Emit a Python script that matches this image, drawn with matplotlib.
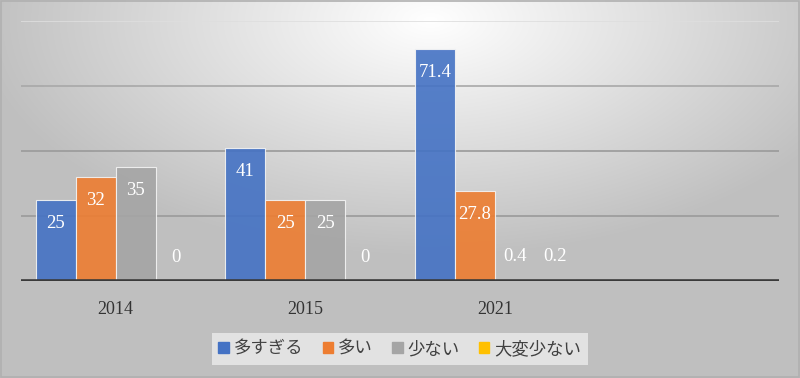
import numpy as np
import matplotlib
matplotlib.use("Agg")
import matplotlib.pyplot as plt
from matplotlib.patches import Rectangle

years = ["2014", "2015", "2021", ""]
series = ["多すぎる", "多い", "少ない", "大変少ない"]
too_many = [25, 41, 71.4]
many = [32, 25, 27.8]
few = [35, 25, 0.4]
very_few = [0, 0, 0.2]
values = [too_many, many, few, very_few]
colors = ["#4472C4", "#ED7D31", "#A5A5A5", "#FFC000"]

W, H = 800, 378
fig = plt.figure(figsize=(W / 100, H / 100), dpi=100)

# radial grey gradient background, brightest near top middle
bg = fig.add_axes([0, 0, 1, 1], zorder=-10)
yy, xx = np.mgrid[0:H, 0:W]
d = np.sqrt(((xx - 430) / W) ** 2 + ((yy - 20) / (H * 1.1)) ** 2)
shade = np.clip(1.0 - 0.44 * d, 0.75, 1.0)
bg.imshow(np.dstack([shade] * 3), aspect="auto", extent=[0, 1, 0, 1])
bg.add_patch(Rectangle((0.001, 0.002), 0.998, 0.995, fill=False,
                       ec="#b0b0b0", lw=1.2, transform=bg.transAxes))
bg.set_axis_off()

ax = fig.add_axes([21 / W, 97 / H, 758 / W, 260 / H])
ax.patch.set_alpha(0)
for s in ax.spines.values():
    s.set_visible(False)

x = np.arange(len(years))
bw = 0.211
for i, (vals, c) in enumerate(zip(values, colors)):
    xs = x[:len(vals)] + (i - 1.5) * bw
    ax.bar(xs, vals, width=bw, color=c, alpha=0.9, edgecolor="#f4f4f4",
           linewidth=0.8, zorder=2)
    for xi, v in zip(xs, vals):
        ly = v - 7.2 if v > 14 else v + 7.2
        ax.text(xi, ly, f"{v:g}", ha="center", va="center", color="white",
                fontsize=13.5, family="Liberation Serif", zorder=3)

ax.set_xlim(-0.5, 3.5)
ax.set_ylim(0, 80)
ax.set_yticks([20, 40, 60, 80])
ax.set_yticklabels([])
for g, col in zip([20, 40, 60, 80], ["#9a9a9a", "#9a9a9a", "#a8a8a8", "#dedede"]):
    ax.axhline(g, color=col, lw=1.2, zorder=1)
ax.axhline(0, color="#3a3a3a", lw=2.6, zorder=4)
ax.tick_params(left=False, bottom=False, pad=11)
ax.set_xticks(x)
ax.set_xticklabels(years, family="Liberation Serif", fontsize=13, color="#333333")

handles = [Rectangle((0, 0), 1, 1, color=c) for c in colors]
leg = fig.legend(handles, series, loc="center", bbox_to_anchor=(400 / W, 1 - 349 / H),
                 ncol=4, frameon=True, fancybox=False, handlelength=0.6,
                 handleheight=0.6, handletextpad=0.3, columnspacing=1.1,
                 borderpad=0.4, prop={"family": ["Noto Sans CJK JP", "DejaVu Sans"],
                                      "size": 12.5})
leg.get_frame().set_facecolor("#ebebeb")
leg.get_frame().set_edgecolor("none")
leg.get_frame().set_alpha(0.8)
for t in leg.get_texts():
    t.set_color("#404040")

fig.savefig("out.png", dpi=100)
